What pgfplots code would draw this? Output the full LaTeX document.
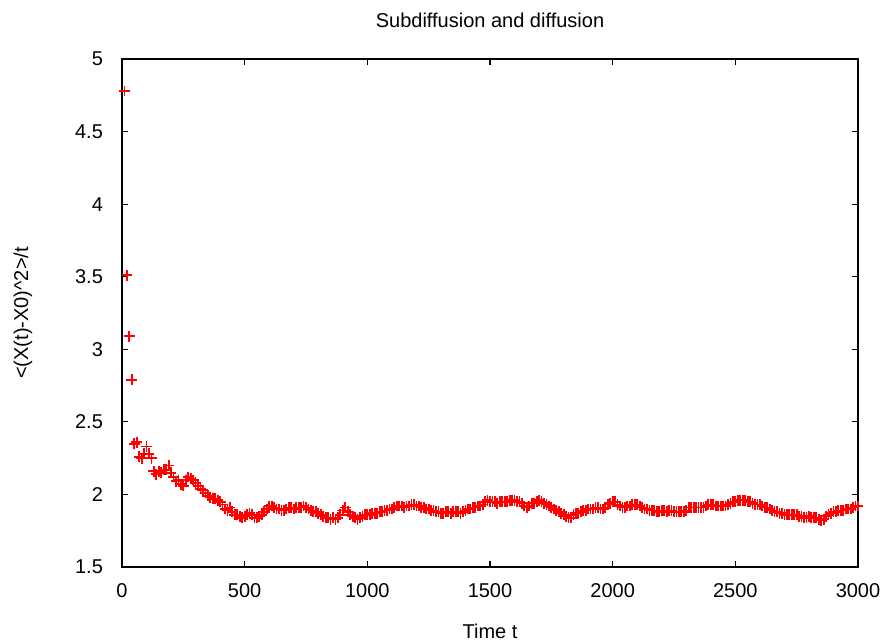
\documentclass[border=0pt]{standalone}
\usepackage{pgfplots}
\pgfplotsset{compat=1.18}
\usepackage{fontspec}
\setmainfont{Liberation Sans}

\begin{document}
\begin{tikzpicture}
\fontsize{10pt}{12pt}\selectfont
% page box: 882x643 px at 0.5pt per px, axis box lower left at origin
\path[use as bounding box] (-61pt,-38pt) rectangle (380pt,283.5pt);
\begin{axis}[
    at={(0,0)}, anchor=south west,
    scale only axis,
    width=368pt, height=254pt,
    xmin=0, xmax=3000,
    ymin=1.5, ymax=5,
    xtick={0,500,...,3000},
    ytick={1.5,2,...,5},
    /pgf/number format/1000 sep={},
    /pgf/number format/assume math mode=true,
    tick align=inside,
    major tick length=3pt,
    tick style={black, line width=0.6pt},
    axis line style={line width=0.8pt},
    xticklabel shift=4.5pt,
    yticklabel shift=6pt,
    ticklabel style={font=\fontsize{10pt}{12pt}\selectfont},
    title={Subdiffusion and diffusion},
    title style={at={(axis description cs:0.5,1.038)}, anchor=base, font=\fontsize{10pt}{12pt}\selectfont},
    xlabel={Time t},
    xlabel style={at={(axis description cs:0.5,-0.1417)}, anchor=base, font=\fontsize{10pt}{12pt}\selectfont},
    ylabel={<(X(t)-X0)\textasciicircum2>/t},
    ylabel style={at={(axis description cs:-0.1277,0.5)}, rotate=0, anchor=base, font=\fontsize{10pt}{12pt}\selectfont},
]
\addplot[only marks, mark=+, mark size=2.7pt, red,
    mark options={draw=red, line width=0.9pt}] coordinates {
(10,4.78)(20,3.51)(30,3.09)(40,2.79)(50,2.35)(60,2.36)(70,2.26)(80,2.25)(90,2.28)(100,2.33)
(110,2.28)(120,2.25)(130,2.16)(140,2.14)(150,2.16)(160,2.15)(170,2.17)(180,2.17)(190,2.20)(200,2.15)
(210,2.12)(220,2.09)(230,2.10)(240,2.07)(250,2.06)(260,2.10)(270,2.12)(280,2.11)(290,2.10)(300,2.08)
(310,2.06)(320,2.04)(330,2.03)(340,2.01)(350,1.99)(360,1.98)(370,1.97)(380,1.97)(390,1.96)(400,1.95)
(410,1.93)(420,1.90)(430,1.89)(440,1.91)(450,1.88)(460,1.86)(470,1.86)(480,1.85)(490,1.84)(500,1.85)
(510,1.86)(520,1.87)(530,1.86)(540,1.84)(550,1.84)(560,1.85)(570,1.86)(580,1.88)(590,1.90)(600,1.92)
(610,1.92)(620,1.91)(630,1.90)(640,1.90)(650,1.89)(660,1.89)(670,1.90)(680,1.91)(690,1.91)(700,1.90)
(710,1.91)(720,1.91)(730,1.91)(740,1.92)(750,1.91)(760,1.90)(770,1.89)(780,1.88)(790,1.88)(800,1.87)
(810,1.86)(820,1.85)(830,1.84)(840,1.84)(850,1.83)(860,1.84)(870,1.83)(880,1.84)(890,1.86)(900,1.89)
(910,1.91)(920,1.88)(930,1.86)(940,1.85)(950,1.84)(960,1.83)(970,1.84)(980,1.85)(990,1.86)(1000,1.86)
(1010,1.86)(1020,1.87)(1030,1.87)(1040,1.87)(1050,1.88)(1060,1.88)(1070,1.89)(1080,1.89)(1090,1.90)(1100,1.90)
(1110,1.91)(1120,1.92)(1130,1.92)(1140,1.92)(1150,1.91)(1160,1.92)(1170,1.92)(1180,1.93)(1190,1.93)(1200,1.92)
(1210,1.92)(1220,1.91)(1230,1.91)(1240,1.90)(1250,1.90)(1260,1.89)(1270,1.89)(1280,1.88)(1290,1.88)(1300,1.87)
(1310,1.87)(1320,1.88)(1330,1.88)(1340,1.87)(1350,1.88)(1360,1.88)(1370,1.88)(1380,1.87)(1390,1.88)(1400,1.89)
(1410,1.90)(1420,1.90)(1430,1.91)(1440,1.91)(1450,1.92)(1460,1.92)(1470,1.93)(1480,1.95)(1490,1.96)(1500,1.95)
(1510,1.95)(1520,1.95)(1530,1.94)(1540,1.95)(1550,1.95)(1560,1.95)(1570,1.95)(1580,1.96)(1590,1.96)(1600,1.96)
(1610,1.95)(1620,1.95)(1630,1.94)(1640,1.92)(1650,1.91)(1660,1.92)(1670,1.94)(1680,1.94)(1690,1.95)(1700,1.96)
(1710,1.95)(1720,1.94)(1730,1.93)(1740,1.92)(1750,1.91)(1760,1.90)(1770,1.89)(1780,1.88)(1790,1.87)(1800,1.86)
(1810,1.85)(1820,1.84)(1830,1.84)(1840,1.86)(1850,1.87)(1860,1.87)(1870,1.88)(1880,1.89)(1890,1.89)(1900,1.90)
(1910,1.90)(1920,1.90)(1930,1.91)(1940,1.91)(1950,1.90)(1960,1.90)(1970,1.91)(1980,1.93)(1990,1.94)(2000,1.95)
(2010,1.95)(2020,1.93)(2030,1.92)(2040,1.91)(2050,1.91)(2060,1.92)(2070,1.92)(2080,1.93)(2090,1.93)(2100,1.93)
(2110,1.92)(2120,1.91)(2130,1.90)(2140,1.90)(2150,1.89)(2160,1.89)(2170,1.89)(2180,1.88)(2190,1.88)(2200,1.89)
(2210,1.89)(2220,1.88)(2230,1.89)(2240,1.89)(2250,1.88)(2260,1.88)(2270,1.88)(2280,1.88)(2290,1.88)(2300,1.89)
(2310,1.91)(2320,1.91)(2330,1.91)(2340,1.91)(2350,1.91)(2360,1.91)(2370,1.91)(2380,1.92)(2390,1.93)(2400,1.93)
(2410,1.93)(2420,1.92)(2430,1.92)(2440,1.92)(2450,1.92)(2460,1.92)(2470,1.93)(2480,1.94)(2490,1.95)(2500,1.95)
(2510,1.96)(2520,1.96)(2530,1.96)(2540,1.96)(2550,1.95)(2560,1.95)(2570,1.94)(2580,1.93)(2590,1.93)(2600,1.93)
(2610,1.92)(2620,1.91)(2630,1.91)(2640,1.90)(2650,1.89)(2660,1.88)(2670,1.88)(2680,1.87)(2690,1.87)(2700,1.86)
(2710,1.86)(2720,1.86)(2730,1.86)(2740,1.86)(2750,1.86)(2760,1.85)(2770,1.85)(2780,1.84)(2790,1.84)(2800,1.85)
(2810,1.84)(2820,1.84)(2830,1.84)(2840,1.83)(2850,1.82)(2860,1.83)(2870,1.85)(2880,1.86)(2890,1.87)(2900,1.88)
(2910,1.88)(2920,1.89)(2930,1.89)(2940,1.89)(2950,1.90)(2960,1.90)(2970,1.90)(2980,1.91)(2990,1.92)(3000,1.92)
};
\end{axis}
\end{tikzpicture}
\end{document}
